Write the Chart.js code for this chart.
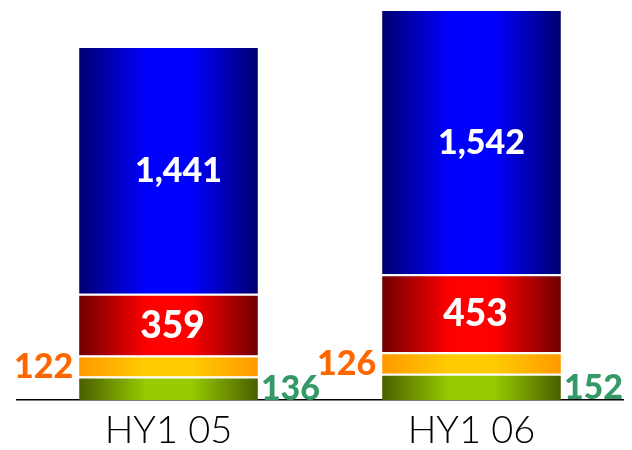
<!DOCTYPE html>
<html lang="en">
  <head>
    <meta charset="UTF-8" />
    <title>HY1 revenue split</title>
    <script src="https://cdn.jsdelivr.net/npm/chart.js@4/dist/chart.umd.min.js"></script>
    <style>
      html,
      body {
        margin: 0;
        padding: 0;
        background: #fff;
      }
      #wrap {
        width: 632px;
        height: 450px;
      }
    </style>
  </head>
  <body>
    <div id="wrap"><canvas id="myChart"></canvas></div>

    <script>
      var periods = ["HY1 05", "HY1 06"];
      var greenValues = [136, 152];
      var orangeValues = [122, 126];
      var redValues = [359, 453];
      var blueValues = [1441, 1542];

      var BAR_PCT = 0.59;

      // horizontal shading: dark at the bar edges, bright in the middle
      function shade(edge, mid) {
        return function (ctx) {
          var chart = ctx.chart;
          var x = chart.scales && chart.scales.x;
          if (!chart.chartArea || !x) return mid;
          var cx = x.getPixelForValue(ctx.dataIndex);
          var half = (x.width / periods.length) * BAR_PCT / 2;
          var g = chart.ctx.createLinearGradient(cx - half, 0, cx + half, 0);
          g.addColorStop(0, edge);
          g.addColorStop(0.38, mid);
          g.addColorStop(0.62, mid);
          g.addColorStop(1, edge);
          return g;
        };
      }

      function fmt(v) {
        return v.toLocaleString("en-US");
      }

      // value labels: inside for the big segments, beside the bar for the small ones
      var segmentLabels = {
        id: "segmentLabels",
        afterDatasetsDraw: function (chart) {
          var c = chart.ctx;
          chart.data.datasets.forEach(function (ds, di) {
            var lbl = ds.label_style;
            chart.getDatasetMeta(di).data.forEach(function (bar, i) {
              var p = bar.getProps(["x", "y", "base", "width"], true);
              var y = (p.y + p.base) / 2;
              var x = p.x + lbl.dx;
              c.save();
              c.font = lbl.font;
              c.fillStyle = lbl.color;
              c.textBaseline = "middle";
              if (lbl.side === "left") {
                c.textAlign = "right";
                x = p.x - p.width / 2 - 6;
              } else if (lbl.side === "right") {
                c.textAlign = "left";
                x = p.x + p.width / 2 + 3;
              } else {
                c.textAlign = "center";
              }
              c.fillText(fmt(ds.data[i]), x, y + 1);
              c.restore();
            });
          });
        },
      };

      var common = {
        borderColor: "#ffffff",
        borderWidth: { top: 2, left: 0, right: 0, bottom: 0 },
        borderSkipped: false,
        barPercentage: BAR_PCT,
        categoryPercentage: 1,
      };

      new Chart(document.getElementById("myChart"), {
        type: "bar",
        data: {
          labels: periods,
          datasets: [
            Object.assign({}, common, {
              label: "green",
              data: greenValues,
              backgroundColor: shade("#4a5f00", "#99cc00"),
              label_style: { side: "right", dx: 0, color: "#339966", font: "900 34px Lato" },
            }),
            Object.assign({}, common, {
              label: "orange",
              data: orangeValues,
              backgroundColor: shade("#ff9900", "#ffcc00"),
              label_style: { side: "left", dx: 0, color: "#ff6600", font: "900 34px Lato" },
            }),
            Object.assign({}, common, {
              label: "red",
              data: redValues,
              backgroundColor: shade("#700000", "#ff0000"),
              label_style: { side: "center", dx: 4, color: "#ffffff", font: "900 37px Lato" },
            }),
            Object.assign({}, common, {
              label: "blue",
              data: blueValues,
              backgroundColor: shade("#000070", "#0000ff"),
              label_style: { side: "center", dx: 10, color: "#ffffff", font: "900 34px Lato" },
            }),
          ],
        },
        options: {
          responsive: true,
          maintainAspectRatio: false,
          animation: false,
          layout: { padding: { left: 17, right: 9, top: 0, bottom: 0 } },
          plugins: {
            legend: { display: false },
            tooltip: { enabled: false },
          },
          scales: {
            x: {
              stacked: true,
              grid: { display: false, drawTicks: false },
              border: { display: true, color: "#000000", width: 1.5 },
              ticks: {
                color: "#000000",
                padding: 12,
                font: { family: "Lato", size: 38, weight: 300, lineHeight: 1 },
              },
              afterFit: function (axis) {
                axis.height = 50;
              },
            },
            y: {
              stacked: true,
              display: false,
              min: 0,
              max: 2325,
            },
          },
        },
        plugins: [segmentLabels],
      });
    </script>
  </body>
</html>
